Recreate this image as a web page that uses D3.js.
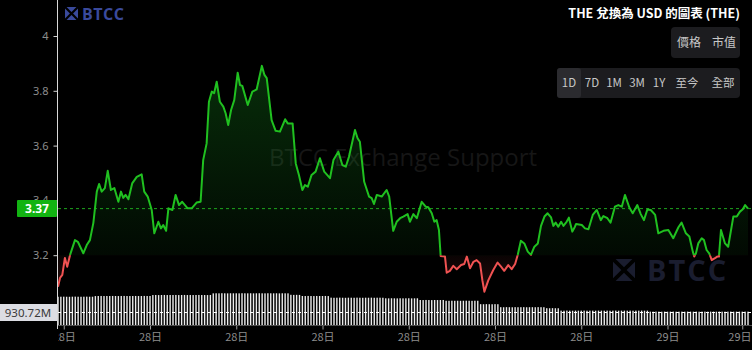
<!DOCTYPE html>
<html>
<head>
<meta charset="utf-8">
<script src="https://cdn.jsdelivr.net/npm/d3@7"></script>
<style>
  body { margin: 0; background: #000; }
  svg { display: block; background: #000; }
</style>
</head>
<body>
<svg width="752" height="350"></svg>
<script>
// THE / USD, 1D view. times are hours since the start of the window
var priceTimes = [
  0,0.07,0.15,0.24,0.32,0.42,0.59,0.69,0.88,1.00,
  1.11,1.23,1.35,1.43,1.52,1.63,1.73,1.84,1.96,2.10,
  2.19,2.27,2.35,2.45,2.58,2.74,2.91,3.00,3.12,3.26,
  3.35,3.49,3.58,3.66,3.76,3.84,3.98,4.09,4.21,4.32,
  4.51,4.65,4.82,4.96,5.05,5.17,5.25,5.35,5.43,5.52,
  5.63,5.75,5.83,5.92,6.02,6.13,6.25,6.33,6.41,6.60,
  6.76,6.91,7.09,7.18,7.26,7.43,7.57,7.72,7.90,7.99,
  8.16,8.27,8.38,8.50,8.59,8.69,8.82,8.96,9.11,9.26,
  9.46,9.58,9.75,9.89,10.01,10.12,10.33,10.42,10.50,10.65,
  10.82,10.91,10.99,11.09,11.26,11.43,11.52,11.66,11.78,11.90,
  12.01,12.16,12.24,12.36,12.48,12.65,12.79,12.88,13.00,13.09,
  13.17,13.25,13.31,13.46,13.52,13.63,13.75,13.87,14.02,14.13,
  14.22,14.33,14.45,14.56,14.68,14.76,14.83,14.97,15.14,15.29,
  15.41,15.52,15.66,15.78,15.90,15.99,16.10,16.22,16.34,16.45,
  16.57,16.69,16.80,16.92,17.03,17.15,17.23,17.31,17.40,17.50,
  17.58,17.69,17.77,17.89,17.98,18.02,18.22,18.33,18.45,18.60,
  18.74,18.88,18.97,19.11,19.22,19.37,19.49,19.61,19.72,19.87,
  19.99,20.15,20.27,20.38,20.50,20.62,20.77,20.88,21.06,21.23,
  21.40,21.58,21.69,21.84,21.96,22.08,22.13,22.19,22.27,22.39,
  22.47,22.56,22.65,22.74,22.85,22.93,22.99,23.06,23.20,23.31,
  23.49,23.61,23.72,23.82,23.90,24.00
];
var priceValues = [
  3.085,3.117,3.128,3.190,3.158,3.201,3.255,3.249,3.207,3.237,
  3.255,3.318,3.432,3.460,3.432,3.445,3.508,3.438,3.445,3.395,
  3.432,3.409,3.420,3.404,3.462,3.486,3.495,3.432,3.414,3.365,
  3.280,3.322,3.298,3.310,3.289,3.371,3.365,3.420,3.383,3.395,
  3.371,3.371,3.392,3.395,3.547,3.608,3.760,3.797,3.791,3.833,
  3.760,3.742,3.718,3.675,3.730,3.766,3.866,3.821,3.818,3.748,
  3.797,3.805,3.891,3.858,3.846,3.693,3.654,3.651,3.696,3.681,
  3.681,3.535,3.493,3.438,3.456,3.450,3.493,3.505,3.554,3.505,
  3.481,3.547,3.578,3.529,3.523,3.559,3.657,3.627,3.614,3.468,
  3.414,3.408,3.387,3.420,3.414,3.438,3.414,3.289,3.322,3.335,
  3.341,3.350,3.322,3.350,3.335,3.395,3.377,3.375,3.353,3.322,
  3.328,3.292,3.197,3.195,3.136,3.143,3.161,3.149,3.164,3.168,
  3.195,3.152,3.176,3.182,3.170,3.109,3.067,3.109,3.146,3.173,
  3.158,3.143,3.164,3.149,3.168,3.201,3.253,3.243,3.213,3.201,
  3.231,3.243,3.307,3.341,3.353,3.338,3.307,3.319,3.304,3.322,
  3.307,3.322,3.337,3.286,3.304,3.314,3.310,3.298,3.295,3.347,
  3.365,3.328,3.343,3.335,3.319,3.377,3.383,3.377,3.420,3.375,
  3.353,3.383,3.350,3.328,3.367,3.365,3.347,3.280,3.289,3.292,
  3.262,3.302,3.319,3.280,3.268,3.213,3.195,3.207,3.243,3.262,
  3.255,3.219,3.207,3.182,3.189,3.195,3.195,3.292,3.243,3.231,
  3.341,3.341,3.359,3.368,3.383,3.370
];
// volume in millions, one bar every 0.1 h
var volumeValues = [
  1968,1972,1975,1970,1966,1974,1978,1971,1969,1973,1976,1970,1972,2015,2020,2024,2018,2022,2019,2025,
  2021,2017,2023,2026,2020,2018,2022,2024,2019,2021,2027,2023,2020,2088,2092,2085,2090,2094,2087,2091,
  2089,2093,2086,2090,2095,2088,2092,2087,2091,2094,2089,2090,2086,2093,2205,2212,2208,2215,2210,2206,
  2213,2209,2211,2207,2214,2210,2208,2212,2206,2211,2215,2209,2207,2213,2210,2208,2212,2205,2211,2209,
  2207,2105,2098,2102,2096,2022,2018,2025,2020,2016,2023,2019,2021,2024,2017,1905,1898,1902,1908,1900,
  1896,1904,1901,1899,1906,1902,1897,1903,1900,1905,1898,1902,1904,1899,1862,1858,1865,1860,1856,1863,
  1859,1861,1864,1857,1860,1862,1742,1738,1745,1740,1736,1743,1739,1741,1744,1690,1686,1693,1688,1692,
  1687,1691,1694,1689,1685,1692,1690,1452,1448,1455,1450,1446,1453,1449,1242,1238,1245,1240,1236,1243,
  1239,1241,1244,1237,1240,1242,1238,1245,1241,1239,1172,1168,1175,1170,1166,1002,998,1005,1000,996,
  1003,999,1001,1004,997,1000,1002,998,1005,1001,999,1003,996,1000,1004,998,1001,1002,999,1003,
  997,1001,1000,1004,998,1002,932,928,935,930,926,933,929,931,934,927,930,932,928,935,
  931,929,933,927,930,934,928,931,932,929,935,930,927,933,931,928,930,934,929,931,
  930.72
];
var yTickValues = [3.2, 3.4, 3.6, 3.8, 4];
var xTickTimes = [0.2, 3.2, 6.2, 9.2, 12.2, 15.2, 18.2, 21.2, 23.8];
var xTickLabels = ["28日", "28日", "28日", "28日", "28日", "28日", "28日", "29日", "29日"];
var typeButtons = ["價格", "市值"];
var rangeButtons = ["1D", "7D", "1M", "3M", "1Y", "至今", "全部"];
var lastPrice = 3.37;
var baseValue = 3.2;
var lastVolume = 930.72;
var title = "THE 兌換為 USD 的圖表 (THE)";

var svg = d3.select("svg");
var width = +svg.attr("width");
var height = +svg.attr("height");

var cjk = "'Noto Sans CJK TC', 'Noto Sans', sans-serif";
var plotLeft = 58, plotBottom = 325;

var x = d3.scaleLinear().domain([0, 24]).range([58, 748]);
var y = d3.scaleLinear().domain([3, 4]).range([310, 36]);
var vy = d3.scaleLinear().domain([0, 2300]).range([plotBottom, 292]);

var prices = priceTimes.map(function(t, i) { return {t: t, v: priceValues[i]}; });
var baseY = y(baseValue);

var defs = svg.append("defs");
defs.append("clipPath").attr("id", "clip-up")
    .append("rect").attr("x", plotLeft).attr("y", 0)
    .attr("width", width - plotLeft).attr("height", baseY);
defs.append("clipPath").attr("id", "clip-down")
    .append("rect").attr("x", plotLeft).attr("y", baseY)
    .attr("width", width - plotLeft).attr("height", plotBottom - baseY);
defs.append("clipPath").attr("id", "clip-plot")
    .append("rect").attr("x", plotLeft).attr("y", 0)
    .attr("width", width - plotLeft).attr("height", height);

var gUp = defs.append("linearGradient").attr("id", "grad-up")
    .attr("gradientUnits", "userSpaceOnUse")
    .attr("x1", 0).attr("y1", y(3.9)).attr("x2", 0).attr("y2", baseY);
gUp.append("stop").attr("offset", 0).attr("stop-color", "#1fbf2a").attr("stop-opacity", 0.24);
gUp.append("stop").attr("offset", 1).attr("stop-color", "#1fbf2a").attr("stop-opacity", 0.05);
var gDown = defs.append("linearGradient").attr("id", "grad-down")
    .attr("gradientUnits", "userSpaceOnUse")
    .attr("x1", 0).attr("y1", baseY).attr("x2", 0).attr("y2", y(3.05));
gDown.append("stop").attr("offset", 0).attr("stop-color", "#ef4a4a").attr("stop-opacity", 0.04);
gDown.append("stop").attr("offset", 1).attr("stop-color", "#ef4a4a").attr("stop-opacity", 0.18);

// watermarks
svg.append("text")
    .attr("x", 403).attr("y", 166)
    .attr("text-anchor", "middle")
    .style("font-family", "'Open Sans', 'Noto Sans', sans-serif")
    .style("font-size", "24px")
    .attr("fill", "#161616")
    .text("BTCC Exchange Support");

function logo(gx, gy, s, color, fontSize, textX, spacing) {
    var g = svg.append("g").attr("transform", "translate(" + gx + "," + gy + ")");
    // four wedges pointing at the centre make the cross mark
    var h = s / 2, gap = s * 0.12;
    var wedges = [
        [[gap, 0], [s - gap, 0], [h, h - gap]],
        [[gap, s], [s - gap, s], [h, h + gap]],
        [[0, gap], [0, s - gap], [h - gap, h]],
        [[s, gap], [s, s - gap], [h + gap, h]]
    ];
    g.selectAll("path").data(wedges).enter().append("path")
        .attr("d", function(d) { return "M" + d.join("L") + "Z"; })
        .attr("fill", color);
    g.append("text")
        .attr("x", textX).attr("y", s - 0.5)
        .style("font-family", "'Open Sans', 'Noto Sans', sans-serif")
        .style("font-weight", "bold")
        .style("font-size", fontSize + "px")
        .style("letter-spacing", spacing + "px")
        .attr("fill", color)
        .text("BTCC");
}
logo(613, 259, 22, "#1a1d2f", 29, 34, 2);

// volume bars
svg.append("g")
    .selectAll("rect")
    .data(volumeValues)
    .enter()
    .append("rect")
    .attr("x", function(d, i) { return x(i * 0.1) - 0.7; })
    .attr("y", function(d) { return vy(d); })
    .attr("width", 1.4)
    .attr("height", function(d) { return plotBottom - vy(d); })
    .attr("fill", "#ececec");

svg.append("line")
    .attr("x1", plotLeft).attr("x2", width)
    .attr("y1", Math.round(vy(lastVolume)) + 0.5).attr("y2", Math.round(vy(lastVolume)) + 0.5)
    .attr("stroke", "#ffffff").attr("stroke-dasharray", "3,3");

// baseline area + line
var area = d3.area()
    .x(function(d) { return x(d.t); })
    .y0(baseY)
    .y1(function(d) { return y(d.v); });
var line = d3.line()
    .x(function(d) { return x(d.t); })
    .y(function(d) { return y(d.v); });

svg.append("path").datum(prices).attr("clip-path", "url(#clip-up)")
    .attr("d", area).attr("fill", "url(#grad-up)");
svg.append("path").datum(prices).attr("clip-path", "url(#clip-down)")
    .attr("d", area).attr("fill", "url(#grad-down)");

// last price line
svg.append("line")
    .attr("x1", plotLeft).attr("x2", width)
    .attr("y1", y(lastPrice)).attr("y2", y(lastPrice))
    .attr("stroke", "#1ea51e").attr("stroke-dasharray", "3,3");

svg.append("path").datum(prices).attr("clip-path", "url(#clip-up)")
    .attr("d", line).attr("fill", "none")
    .attr("stroke", "#20c020").attr("stroke-width", 2).attr("stroke-linejoin", "round");
svg.append("path").datum(prices).attr("clip-path", "url(#clip-down)")
    .attr("d", line).attr("fill", "none")
    .attr("stroke", "#f05252").attr("stroke-width", 2).attr("stroke-linejoin", "round");

// top-left logo drawn over the plot
logo(65, 7, 13, "#3a4a9c", 16, 17, 0.5);

// y axis
var yAxis = svg.append("g").attr("transform", "translate(" + (plotLeft - 0.5) + ",0)")
    .call(d3.axisLeft(y).tickValues(yTickValues).tickSize(4).tickPadding(5)
        .tickFormat(function(d) { return d === 4 ? "4" : d3.format(".1f")(d); }));
yAxis.select(".domain").remove();
yAxis.selectAll(".tick line").attr("stroke", "#d0d0d0");
yAxis.selectAll(".tick text").attr("fill", "#8c8c8c")
    .style("font-family", "'Noto Sans', sans-serif").style("font-size", "11px");
svg.append("line")
    .attr("x1", plotLeft - 0.5).attr("x2", plotLeft - 0.5)
    .attr("y1", 0).attr("y2", plotBottom + 4)
    .attr("stroke", "#d8d8d8");

// x axis
var xAxis = svg.append("g")
    .attr("clip-path", "url(#clip-plot)")
    .attr("transform", "translate(0," + (plotBottom + 0.5) + ")")
    .call(d3.axisBottom(x).tickValues(xTickTimes).tickSize(4).tickPadding(4)
        .tickFormat(function(d, i) { return xTickLabels[i]; }));
xAxis.select(".domain").attr("stroke", "#9a9a9a").attr("d", "M" + plotLeft + ",0H" + width);
xAxis.selectAll(".tick line").attr("stroke", "#9a9a9a");
xAxis.selectAll(".tick text").attr("fill", "#8c8c8c")
    .style("font-family", cjk).style("font-size", "11px");
// keep the right-most label inside the frame
xAxis.selectAll(".tick text").filter(function(d, i) { return i === xTickTimes.length - 1; })
    .attr("text-anchor", "end").attr("dx", (width - 1 - x(xTickTimes[xTickTimes.length - 1])) + "px");

// price label
var py = y(lastPrice);
svg.append("rect")
    .attr("x", 17).attr("y", py - 8.5).attr("width", plotLeft - 18).attr("height", 17)
    .attr("rx", 1).attr("fill", "#12b312");
svg.append("text")
    .attr("x", 37).attr("y", py + 4.5).attr("text-anchor", "middle")
    .style("font-family", "'Noto Sans', sans-serif").style("font-size", "12px")
    .style("font-weight", "bold").attr("fill", "#ffffff")
    .text(d3.format(".2f")(lastPrice));

// volume label
var vly = Math.round(vy(lastVolume));
svg.append("rect")
    .attr("x", 0).attr("y", vly - 8).attr("width", plotLeft - 1).attr("height", 17)
    .attr("fill", "#dcdde3");
svg.append("text")
    .attr("x", 28).attr("y", vly + 4.5).attr("text-anchor", "middle")
    .style("font-family", "'Noto Sans', sans-serif").style("font-size", "11.5px")
    .attr("fill", "#3a3a3a")
    .text(lastVolume + "M");

// title
svg.append("text")
    .attr("x", 740).attr("y", 18).attr("text-anchor", "end")
    .style("font-family", cjk).style("font-size", "12.5px").style("font-weight", "bold")
    .attr("fill", "#ffffff")
    .text(title);

// button groups
var typeX = [689, 724];
var rangeX = [569, 592, 614, 637, 659, 687, 723];

svg.append("rect").attr("x", 671).attr("y", 27).attr("width", 69).attr("height", 31)
    .attr("rx", 4).attr("fill", "#1c1c1f");
svg.append("g").selectAll("text").data(typeButtons).enter().append("text")
    .attr("x", function(d, i) { return typeX[i]; }).attr("y", 46.5)
    .attr("text-anchor", "middle")
    .style("font-family", cjk).style("font-size", "12px")
    .attr("fill", "#c8c8c8")
    .text(function(d) { return d; });

svg.append("rect").attr("x", 557).attr("y", 68).attr("width", 183).attr("height", 30)
    .attr("rx", 4).attr("fill", "#1c1c1f");
svg.append("rect").attr("x", 557).attr("y", 68).attr("width", 24).attr("height", 30)
    .attr("rx", 3).attr("fill", "#2b2b2f");
svg.append("g").selectAll("text").data(rangeButtons).enter().append("text")
    .attr("x", function(d, i) { return rangeX[i]; }).attr("y", 87)
    .attr("text-anchor", "middle")
    .style("font-family", cjk).style("font-size", "11.5px")
    .attr("fill", "#c8c8c8")
    .text(function(d) { return d; });
</script>
</body>
</html>
